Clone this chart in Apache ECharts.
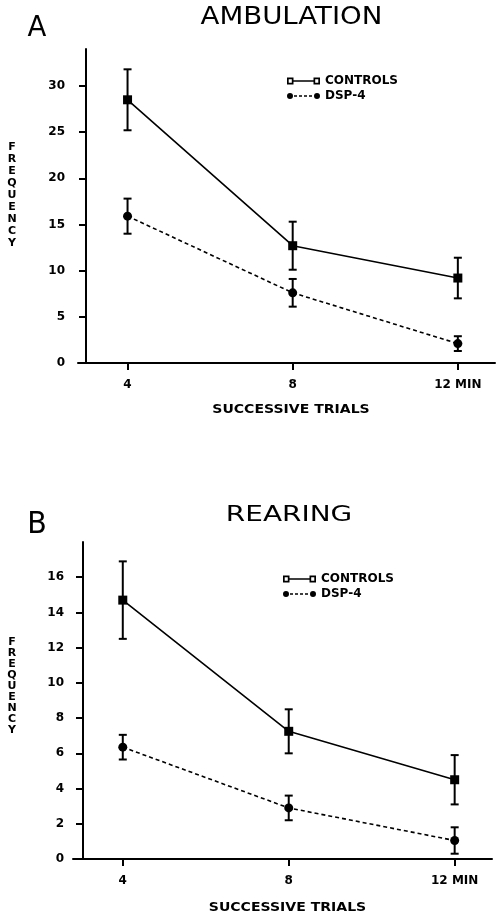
<!DOCTYPE html>
<html>
<head>
<meta charset="utf-8">
<script src="https://cdn.jsdelivr.net/npm/echarts@6/dist/echarts.min.js"></script>
<style>html,body{margin:0;padding:0;background:#fff;}#c{width:498px;height:916px;}</style>
</head>
<body>
<div id="c"></div>
<script>
const trials = [4, 8, 12];
const xTickLabels = ['4', '8', '12 MIN'];
const ambYTicks = [0, 5, 10, 15, 20, 25, 30];
const rearYTicks = [0, 2, 4, 6, 8, 10, 12, 14, 16];
const ambControls = [28.5, 12.7, 9.2];
const ambControlsErr = [3.3, 2.6, 2.2];
const ambDsp = [15.9, 7.6, 2.1];
const ambDspErr = [1.9, 1.5, 0.8];
const rearControls = [14.7, 7.25, 4.5];
const rearControlsErr = [2.2, 1.25, 1.4];
const rearDsp = [6.35, 2.9, 1.05];
const rearDspErr = [0.7, 0.7, 0.75];

const FONT = 'DejaVu Sans';
const pair = (ys) => trials.map((t, i) => [t, ys[i]]);
const errData = (ys, es) => trials.map((t, i) => [t, ys[i], es[i]]);

function errRender(params, api) {
  const x = api.value(0), m = api.value(1), e = api.value(2);
  const top = api.coord([x, m + e]);
  const bot = api.coord([x, m - e]);
  const w = 4;
  const st = { stroke: '#000', lineWidth: 2 };
  return {
    type: 'group',
    children: [
      { type: 'line', shape: { x1: top[0], y1: top[1], x2: bot[0], y2: bot[1] }, style: st },
      { type: 'line', shape: { x1: top[0] - w, y1: top[1], x2: top[0] + w, y2: top[1] }, style: st },
      { type: 'line', shape: { x1: bot[0] - w, y1: bot[1], x2: bot[0] + w, y2: bot[1] }, style: st }
    ]
  };
}

const ctrlIcon = 'path://M0 0.5H6.5V2.2H0Z M0 5.8H6.5V7.5H0Z M0 0.5H1.7V7.5H0Z M4.8 0.5H6.5V7.5H4.8Z M26.5 0.5H33V2.2H26.5Z M26.5 5.8H33V7.5H26.5Z M26.5 0.5H28.2V7.5H26.5Z M31.3 0.5H33V7.5H31.3Z M6 3.2H27V4.8H6Z';
const dspIcon = 'path://M0 4A3 3 0 1 1 6 4A3 3 0 1 1 0 4Z M27 4A3 3 0 1 1 33 4A3 3 0 1 1 27 4Z M7 3.2H10V4.8H7Z M12 3.2H15V4.8H12Z M17 3.2H20V4.8H17Z M22 3.2H25V4.8H22Z';

function xAxisOf(gi) {
  return {
    type: 'value', gridIndex: gi, min: 2.8, max: 12.9,
    axisLine: { show: true, lineStyle: { color: '#000', width: 2 } },
    axisTick: { show: true, customValues: trials, length: 7, inside: false, lineStyle: { color: '#000', width: 2 } },
    axisLabel: { customValues: trials, margin: 16, color: '#000', fontFamily: FONT, fontWeight: 'bold', fontSize: 12,
      formatter: (v) => xTickLabels[trials.indexOf(v)] },
    splitLine: { show: false }
  };
}
function yAxisOf(gi, max, ticks, offset, margin) {
  return {
    type: 'value', gridIndex: gi, min: 0, max: max, offset: offset,
    axisLine: { show: true, lineStyle: { color: '#000', width: 2 } },
    axisTick: { show: true, customValues: ticks, length: 7, inside: false, lineStyle: { color: '#000', width: 2 } },
    axisLabel: { customValues: ticks, margin: margin, color: '#000', fontFamily: FONT, fontWeight: 'bold', fontSize: 12 },
    splitLine: { show: false }
  };
}
function legendOf(left, top) {
  return {
    left: left, top: top, orient: 'vertical', padding: 0,
    itemWidth: 33, itemHeight: 8, itemGap: 3,
    itemStyle: { color: '#000', borderWidth: 0 },
    textStyle: { color: '#000', fontFamily: FONT, fontWeight: 'bold', fontSize: 12, padding: [0, 0, 0, 0] },
    selectedMode: false,
    data: [{ name: 'CONTROLS', icon: ctrlIcon }, { name: 'DSP-4', icon: dspIcon }]
  };
}
function lineSeries(name, data, gi, symbol, dashed) {
  return {
    type: 'line', name: name, xAxisIndex: gi, yAxisIndex: gi, data: data,
    symbol: symbol, symbolSize: 9, z: 3,
    itemStyle: { color: '#000', borderWidth: 0 },
    lineStyle: { color: '#000', width: 1.6, type: dashed ? [4, 3] : 'solid' }
  };
}
function errSeries(name, data, gi) {
  return { type: 'custom', name: name, xAxisIndex: gi, yAxisIndex: gi, data: data, renderItem: errRender, z: 2, silent: true };
}
function txt(text, x, y, size, weight, sx, extra) {
  return { type: 'text', x: x, y: y, scaleX: sx || 1, silent: true,
    style: Object.assign({ text: text, fill: '#000', fontFamily: FONT, fontSize: size, fontWeight: weight,
      align: 'center', verticalAlign: 'middle' }, extra || {}) };
}

const chart = echarts.init(document.getElementById('c'), null, { renderer: 'canvas' });
chart.setOption({
  backgroundColor: '#fff',
  animation: false,
  grid: [
    { left: 78, top: 49, width: 417, height: 314 },
    { left: 73, top: 542, width: 419, height: 317 }
  ],
  xAxis: [xAxisOf(0), xAxisOf(1)],
  yAxis: [yAxisOf(0, 34, ambYTicks, -8, 21), yAxisOf(1, 18, rearYTicks, -10, 19)],
  legend: [legendOf(287, 75), legendOf(283, 573)],
  graphic: [
    txt('A', 37, 28, 29, 'normal', 0.95),
    txt('AMBULATION', 291.5, 18, 24, 'normal', 1.15),
    txt('FREQUENCY'.split('').join('\n'), 12, 195, 11, 'bold', 1, { lineHeight: 12 }),
    txt('SUCCESSIVE TRIALS', 291, 410, 13, 'bold', 1.08),
    txt('B', 37, 525, 30, 'normal', 0.95),
    txt('REARING', 289, 516, 21, 'normal', 1.33),
    txt('FREQUENCY'.split('').join('\n'), 12, 686.5, 11, 'bold', 1, { lineHeight: 11 }),
    txt('SUCCESSIVE TRIALS', 287.5, 908, 13, 'bold', 1.08)
  ],
  series: [
    errSeries('CONTROLS', errData(ambControls, ambControlsErr), 0),
    errSeries('DSP-4', errData(ambDsp, ambDspErr), 0),
    lineSeries('CONTROLS', pair(ambControls), 0, 'rect', false),
    lineSeries('DSP-4', pair(ambDsp), 0, 'circle', true),
    errSeries('CONTROLS', errData(rearControls, rearControlsErr), 1),
    errSeries('DSP-4', errData(rearDsp, rearDspErr), 1),
    lineSeries('CONTROLS', pair(rearControls), 1, 'rect', false),
    lineSeries('DSP-4', pair(rearDsp), 1, 'circle', true)
  ]
});
</script>
</body>
</html>
